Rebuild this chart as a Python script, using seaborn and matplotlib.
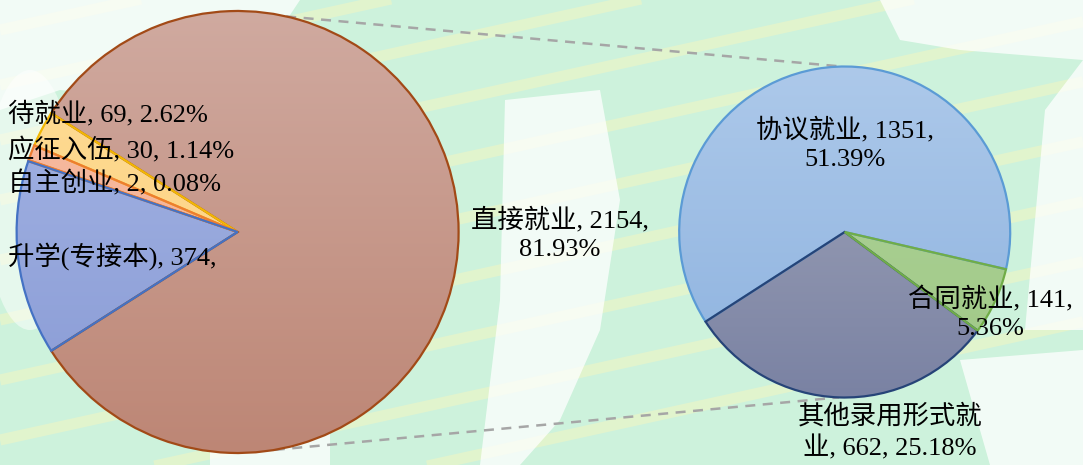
import numpy as np
import seaborn as sns
from matplotlib import pyplot as plt
from matplotlib.patches import Polygon, Ellipse
from matplotlib.colors import to_rgb

# primary pie
main_names = ['直接就业', '待就业', '应征入伍', '自主创业', '升学(专接本)']
main_values = [2154, 69, 30, 2, 374]
# secondary pie (breakdown of 直接就业)
sub_names = ['协议就业', '其他录用形式就业', '合同就业']
sub_values = [1351, 662, 141]

total = sum(main_values)

sns.set_theme(style="white")
plt.rcParams['font.family'] = ['Liberation Serif', 'Noto Sans CJK SC', 'DejaVu Sans']

W, H = 1083, 465
fig = plt.figure(figsize=(10.83, 4.65), dpi=100)
ax = fig.add_axes([0, 0, 1, 1])
ax.set_xlim(0, W)
ax.set_ylim(0, H)
ax.set_aspect('equal')
ax.axis('off')

# ---- background (green watermark look) ----
ax.add_patch(Polygon([(0, 0), (W, 0), (W, H), (0, H)], closed=True, fc='#cdf2dc', ec='none', zorder=0))
for y0 in [30, 85, 140, 200, 260, 320, 380, 440, 500, 560]:
    xs = np.array([0, W])
    ys = y0 - 0.22 * xs
    ax.plot(xs, H - ys, color='#f6f6c0', lw=8, alpha=0.5, solid_capstyle='butt', zorder=0.1)
whites = [
    [(0, 0), (300, 0), (260, 60), (160, 100), (60, 90), (0, 110)],
    [(880, 0), (1083, 0), (1083, 60), (960, 50), (900, 40)],
    [(1025, 330), (1083, 330), (1083, 60), (1045, 110)],
    [(505, 100), (600, 90), (620, 200), (600, 330), (560, 420), (520, 465), (480, 465), (500, 300)],
    [(210, 440), (330, 430), (330, 465), (210, 465)],
    [(960, 360), (1083, 350), (1083, 465), (990, 465)],
]
for pts in whites:
    ax.add_patch(Polygon([(x, H - y) for x, y in pts], closed=True, fc='white', ec='none', alpha=0.75, zorder=0.2))
ax.add_patch(Ellipse((30, H - 200), 90, 260, fc='white', ec='none', alpha=0.5, zorder=0.2))

# ---- pies ----
def draw_pie(values, center, radius, start, tops, bottoms, edges):
    wedges, _ = ax.pie(values, startangle=start, counterclock=True, center=center,
                       radius=radius, colors=['none'] * len(values),
                       wedgeprops=dict(linewidth=1.6))
    cx, cy = center
    for w, t, b, e in zip(wedges, tops, bottoms, edges):
        w.set_edgecolor(e)
        w.set_facecolor('none')
        w.set_zorder(3)
        grad = np.linspace(0, 1, 256)[:, None, None]
        img = np.array(to_rgb(t))[None, None, :] * (1 - grad) + np.array(to_rgb(b))[None, None, :] * grad
        im = ax.imshow(img, extent=(cx - radius, cx + radius, cy - radius, cy + radius),
                       origin='upper', aspect='auto', zorder=2)
        im.set_clip_path(w)
    return wedges

lc, lr = (237.6, H - 232), 221
rc, rr = (844.7, H - 232), 165.5

draw_pie(main_values, lc, lr, -main_values[0] / total * 360 / 2,
         ['#d0aaa0', '#fedd97', '#f8bca3', '#f6b996', '#a8b8e6'],
         ['#bd8675', '#fccf7c', '#f2ae90', '#f2ad88', '#8799d4'],
         ['#a24a17', '#f2b705', '#ed7d31', '#ed7d31', '#4472c4'])
draw_pie(sub_values, rc, rr, -13,
         ['#adc9ea', '#a4a8bb', '#b0d49a'],
         ['#8db2df', '#7a82a3', '#9fc886'],
         ['#5b9bd5', '#264478', '#70ad47'])
ax.set_xlim(0, W)
ax.set_ylim(0, H)

# connector lines
for a1, a2 in [(77.3, 91), (-80.3, -92)]:
    p1 = (lc[0] + lr * np.cos(np.radians(a1)), lc[1] + lr * np.sin(np.radians(a1)))
    p2 = (rc[0] + rr * np.cos(np.radians(a2)), rc[1] + rr * np.sin(np.radians(a2)))
    ax.plot([p1[0], p2[0]], [p1[1], p2[1]], color='#a6a6a6', lw=1.8, ls=(0, (4, 3)), zorder=1)

# ---- labels ----
def lab(name, v):
    return f'{name}, {v}, {v / total * 100:.2f}%'

fs = 19
txt = dict(fontsize=fs, color='black', zorder=5)
ax.text(8, H - 114, lab(main_names[1], main_values[1]), ha='left', va='center', **txt)
ax.text(8, H - 150, lab(main_names[2], main_values[2]), ha='left', va='center', **txt)
ax.text(8, H - 183, lab(main_names[3], main_values[3]), ha='left', va='center', **txt)
ax.text(8, H - 256, f'{main_names[4]}, {main_values[4]},', ha='left', va='center', **txt)
ax.text(560, H - 234, f'{main_names[0]}, {main_values[0]},\n{main_values[0] / total * 100:.2f}%',
        ha='center', va='center', linespacing=1.35, **txt)

ax.text(845, H - 144, f'{sub_names[0]}, {sub_values[0]},\n{sub_values[0] / total * 100:.2f}%',
        ha='center', va='center', linespacing=1.35, **txt)
ax.text(990, H - 313, f'{sub_names[2]}, {sub_values[2]},\n{sub_values[2] / total * 100:.2f}%',
        ha='center', va='center', linespacing=1.35, **txt)
ax.text(890, H - 432, f'{sub_names[1][:7]}\n{sub_names[1][7:]}, {sub_values[1]}, {sub_values[1] / total * 100:.2f}%',
        ha='center', va='center', linespacing=1.35, **txt)

fig.savefig('out.png', dpi=100)
